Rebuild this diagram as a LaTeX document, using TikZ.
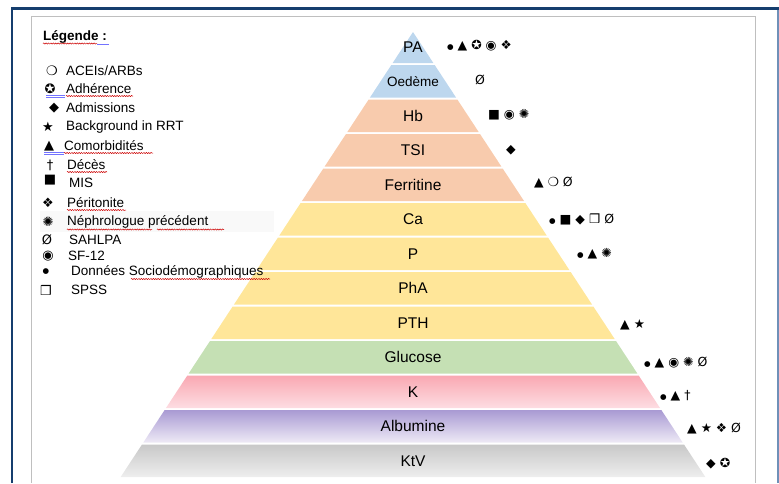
\documentclass[tikz,border=0pt]{standalone}
\usepackage{fontspec}
\setmainfont{Liberation Sans}
\newfontfamily\symf{DejaVu Sans}
\usetikzlibrary{decorations.pathmorphing}
\definecolor{blueT}{HTML}{BDD7EE}
\definecolor{peachT}{HTML}{F8CBAD}
\definecolor{yelT}{HTML}{FFE699}
\definecolor{greenT}{HTML}{C5E0B4}
\definecolor{pinkA}{HTML}{F9A8B2}
\definecolor{pinkB}{HTML}{FDDDE2}
\definecolor{purA}{HTML}{A99AD3}
\definecolor{purB}{HTML}{EEEAF6}
\definecolor{grayA}{HTML}{C8C8C8}
\definecolor{grayB}{HTML}{EEEEEE}
\definecolor{navy}{HTML}{153E6E}
\definecolor{steel}{HTML}{6F90B8}
\definecolor{boxgray}{HTML}{BFBFBF}
\newcommand{\bul}{{\fontsize{7.5}{8}\selectfont ●}}
\newcommand{\tier}[4]{%
  \pgfmathsetmacro{\tyt}{max(32,30.5+34.5*#1)}%
  \pgfmathsetmacro{\tyb}{28.5+34.5*(#1+1)}%
  \pgfmathsetmacro{\twt}{(\tyt-32)*0.657}%
  \pgfmathsetmacro{\twb}{(\tyb-32)*0.657}%
  \path[#2] (413-\twt,\tyt) -- (413+\twt,\tyt) -- (413+\twb,\tyb) -- (413-\twb,\tyb) -- cycle;
  \node[inner sep=0pt, font=\fontsize{#4}{#4}\selectfont] (tier#1) at (413,{(\tyt+\tyb)/2}) {#3};
}
\begin{document}
\begin{tikzpicture}[x=1pt,y=-1pt,
  lbl/.style={inner sep=0pt, anchor=west, font=\fontsize{13.5}{16}\selectfont},
  lsym/.style={inner sep=0pt, font=\symf\fontsize{13}{15}\selectfont},
  rsym/.style={inner sep=0pt, anchor=west, font=\symf\fontsize{12.5}{15}\selectfont},
  squig/.style={draw=red!80!black, line width=0.5pt, decorate, decoration={snake, amplitude=0.6pt, segment length=2.4pt}},
  blueul/.style={draw=blue!55, line width=0.5pt}]
\useasboundingbox (0,0) rectangle (779,483);
% frame
\draw[boxgray, line width=1pt] (31,483) -- (31,16) -- (755,16) -- (755,483);
\draw[steel, line width=1.5pt] (778,8) -- (778,483);
\draw[navy, line width=2.5pt] (12,483) -- (12,8.5) -- (779,8.5);
% pyramid
\tier{0}{fill=blueT}{PA}{15.5}
\tier{1}{fill=blueT}{Oedème}{13.5}
\tier{2}{fill=peachT}{Hb}{15.5}
\tier{3}{fill=peachT}{TSI}{15.5}
\tier{4}{fill=peachT}{Ferritine}{15.5}
\tier{5}{fill=yelT}{Ca}{15.5}
\tier{6}{fill=yelT}{P}{15.5}
\tier{7}{fill=yelT}{PhA}{15.5}
\tier{8}{fill=yelT}{PTH}{15.5}
\tier{9}{fill=greenT}{Glucose}{15.5}
\tier{10}{top color=pinkA, bottom color=pinkB}{K}{15.5}
\tier{11}{top color=purA, bottom color=purB}{Albumine}{15.5}
\tier{12}{top color=grayA, bottom color=grayB}{KtV}{15.5}
% right symbols
\node[rsym] (s0) at (447,46) {\bul{} ▲ ✪ ◉ ❖};
\node[rsym] (s1) at (475,80) {Ø};
\node[rsym] (s2) at (488,115) {■ ◉ ✺};
\node[rsym] (s3) at (506,150) {◆};
\node[rsym] (s4) at (534,183) {▲ ❍ Ø};
\node[rsym] (s5) at (549,219) {\bul{} ■ ◆ ❒ Ø};
\node[rsym] (s6) at (577,254) {\bul{} ▲ ✺};
\node[rsym] (s8) at (620,325) {▲ ★};
\node[rsym] (s9) at (644,363) {\bul{} ▲ ◉ ✺ Ø};
\node[rsym] (s10) at (660,396) {\bul{} ▲ †};
\node[rsym] (s11) at (687,429) {▲ ★ ❖ Ø};
\node[rsym] (s12) at (706,464) {◆ ✪};
% legend
\fill[gray!5] (40,211) rectangle (274,232);
\node[inner sep=0pt, anchor=west, font=\bfseries\fontsize{13.5}{16}\selectfont] (lg) at (43,37) {Légende :};
\node[lsym] (ls1) at (52,71) {❍};   \node[lbl] (lt1) at (66,71) {ACEIs/ARBs};
\node[lsym] (ls2) at (50,89) {✪};   \node[lbl] (lt2) at (66,89) {Adhérence};
\node[lsym] (ls3) at (54,108) {◆};  \node[lbl] (lt3) at (66,108) {Admissions};
\node[lsym] (ls4) at (48,127) {★};  \node[lbl] (lt4) at (66,127) {Background in RRT};
\node[lsym] (ls5) at (49,146) {▲};  \node[lbl] (lt5) at (64,146) {Comorbidités};
\node[lsym] (ls6) at (50,165) {†};  \node[lbl] (lt6) at (67,165) {Décès};
\node[lsym] (ls7) at (50,180) {■};  \node[lbl] (lt7) at (69,183) {MIS};
\node[lsym] (ls8) at (48,203) {❖};  \node[lbl] (lt8) at (67,203) {Péritonite};
\node[lsym] (ls9) at (48,222) {✺};  \node[lbl] (lt9) at (67,222) {Néphrologue précédent};
\node[lsym] (ls10) at (47,240) {Ø}; \node[lbl] (lt10) at (69,240) {SAHLPA};
\node[lsym] (ls11) at (48,256) {◉}; \node[lbl] (lt11) at (68,256) {SF-12};
\node[lsym] (ls12) at (46,272) {\bul}; \node[lbl] (lt12) at (71,272) {Données Sociodémographiques};
\node[lsym] (ls13) at (46,290) {❒}; \node[lbl] (lt13) at (71,290) {SPSS};
% proofing marks
\draw[squig] (43,43.5) -- (97,43.5);
\draw[blueul] (97,44.5) -- (109,44.5);
\draw[squig] (66,96) -- (133,96);
\draw[blueul] (46,95.5) -- (65,95.5) (46,97) -- (65,97);
\draw[squig] (64,153) -- (153,153);
\draw[blueul] (44,152.5) -- (64,152.5) (44,154) -- (64,154);
\draw[squig] (67,172) -- (107,172);
\draw[squig] (67,210) -- (126,210);
\draw[squig] (67,229.5) -- (152,229.5);
\draw[squig] (157,229.5) -- (224,229.5);
\draw[squig] (131,279) -- (270,279);
\end{tikzpicture}
\end{document}
